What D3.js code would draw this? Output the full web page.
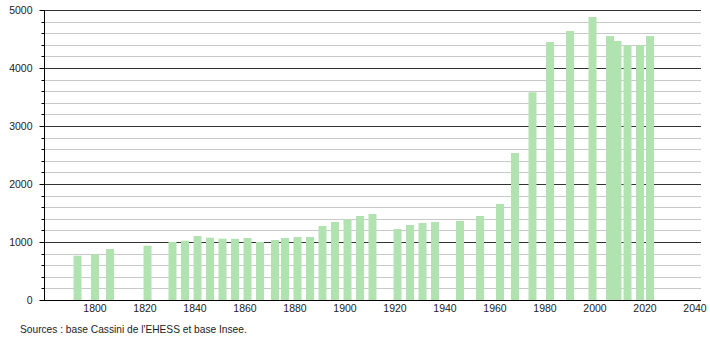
<!DOCTYPE html>
<html>
<head>
<meta charset="utf-8">
<script src="https://cdn.jsdelivr.net/npm/d3@7"></script>
<style>
  body { margin: 0; background: #fff; }
  text { font-family: "Liberation Sans", Arial, sans-serif; font-size: 10.5px; fill: #222; }
</style>
</head>
<body>
<svg id="svg" width="710" height="340"></svg>
<script>
// census years and population
let years = [1793, 1800, 1806, 1821, 1831, 1836, 1841, 1846, 1851, 1856,
             1861, 1866, 1872, 1876, 1881, 1886, 1891, 1896, 1901, 1906,
             1911, 1921, 1926, 1931, 1936, 1946, 1954, 1962, 1968, 1975,
             1982, 1990, 1999, 2006, 2009, 2013, 2018, 2022];
let population = [764, 788, 879, 936, 1000, 1022, 1103, 1074, 1057, 1055,
                  1069, 1000, 1034, 1069, 1086, 1086, 1276, 1345, 1391, 1448,
                  1483, 1224, 1293, 1328, 1345, 1365, 1448, 1655, 2534, 3581,
                  4448, 4638, 4879, 4552, 4466, 4391, 4391, 4552];
let xTicks = [1800, 1820, 1840, 1860, 1880, 1900, 1920, 1940, 1960, 1980, 2000, 2020, 2040];
let yMajor = [0, 1000, 2000, 3000, 4000, 5000];
let yMinor = d3.range(200, 5000, 200).filter(v => v % 1000 != 0);
let source = "Sources : base Cassini de l'EHESS et base Insee.";

let svg = d3.select("#svg");

let x = d3.scaleLinear().domain([1780, 2042]).range([45, 700]);
let y = d3.scaleLinear().domain([0, 5000]).range([300, 10]);

// minor grid lines
svg.append("g").selectAll("line").data(yMinor).enter().append("line")
    .attr("x1", 44).attr("x2", 701)
    .attr("y1", d => Math.round(y(d)) + 0.5).attr("y2", d => Math.round(y(d)) + 0.5)
    .attr("stroke", "#c8c8c8").attr("stroke-width", 1);

// major grid lines
svg.append("g").selectAll("line").data(yMajor.slice(1)).enter().append("line")
    .attr("x1", 44).attr("x2", 701)
    .attr("y1", d => Math.round(y(d)) + 0.5).attr("y2", d => Math.round(y(d)) + 0.5)
    .attr("stroke", "#333").attr("stroke-width", 1);

// bars
let bw = (x(1) - x(0)) * 3.2;
svg.append("g").selectAll("rect").data(years).enter().append("rect")
    .attr("x", (d) => x(d) - bw / 2)
    .attr("y", (d, i) => y(population[i]))
    .attr("width", bw)
    .attr("height", (d, i) => y(0) - y(population[i]))
    .attr("fill", "#b1e3b1");

// left axis with minor ticks
let yAxis = svg.append("g").attr("transform", "translate(44.5,0)");
yAxis.append("line").attr("x1", 0).attr("x2", 0).attr("y1", y(5000)).attr("y2", y(0))
    .attr("stroke", "#000");
yAxis.selectAll(".minor").data(yMinor).enter().append("line")
    .attr("x1", -3).attr("x2", 0)
    .attr("y1", d => Math.round(y(d)) + 0.5).attr("y2", d => Math.round(y(d)) + 0.5)
    .attr("stroke", "#000");
yAxis.selectAll(".major").data(yMajor).enter().append("line")
    .attr("x1", -5).attr("x2", 0)
    .attr("y1", d => Math.round(y(d)) + 0.5).attr("y2", d => Math.round(y(d)) + 0.5)
    .attr("stroke", "#000");
yAxis.selectAll("text").data(yMajor).enter().append("text")
    .attr("x", -12).attr("y", d => y(d)).attr("dy", "0.35em")
    .attr("text-anchor", "end")
    .text(d => d);

// bottom axis
svg.append("line").attr("x1", 44).attr("x2", 701)
    .attr("y1", 300.5).attr("y2", 300.5).attr("stroke", "#000");
svg.append("g").selectAll("text").data(xTicks).enter().append("text")
    .attr("x", d => x(d)).attr("y", 312)
    .attr("text-anchor", "middle")
    .text(d => d);

svg.append("text").attr("x", 20).attr("y", 333).style("font-size", "10.2px").text(source);
</script>
</body>
</html>
